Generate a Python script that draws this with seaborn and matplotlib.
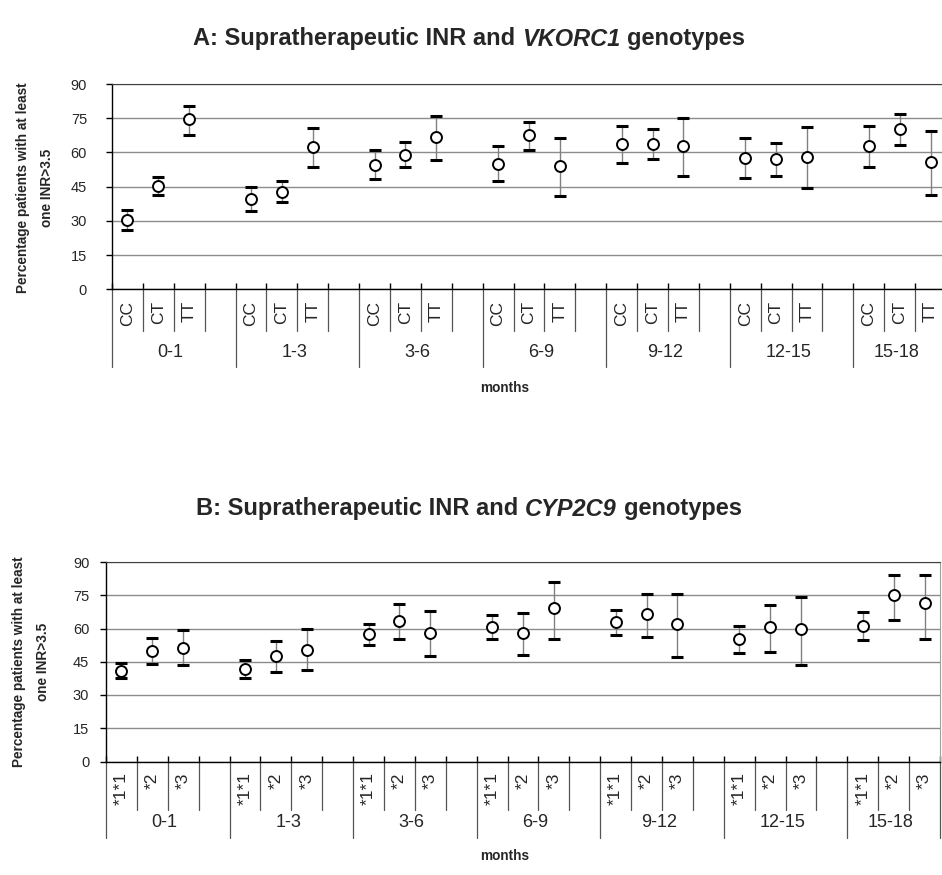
import numpy as np
import pandas as pd
import matplotlib.pyplot as plt
import matplotlib.transforms as mtransforms
import seaborn as sns

sns.set_style("white")
plt.rcParams['font.family'] = ['Liberation Sans', 'DejaVu Sans']

# data
months = ["0-1", "1-3", "3-6", "6-9", "9-12", "12-15", "15-18"]
vkorc1_genotypes = ["CC", "CT", "TT"]
cyp2c9_genotypes = ["*1*1", "*2", "*3"]

vkorc1_pct = [30.2, 45.3, 74.5, 39.6, 42.8, 62.4, 54.6, 59.0, 66.9, 55.1, 67.6, 53.9,
              63.8, 63.8, 63.0, 57.7, 57.0, 58.0, 62.8, 70.1, 55.8]
vkorc1_lo = [26.0, 41.2, 67.5, 34.2, 38.1, 53.5, 48.5, 53.6, 56.7, 47.3, 61.2, 41.0,
             55.4, 57.1, 49.7, 48.8, 49.8, 44.3, 53.6, 63.1, 41.5]
vkorc1_hi = [34.8, 49.1, 80.5, 45.0, 47.5, 70.6, 60.9, 64.4, 76.0, 62.7, 73.3, 66.5,
             71.5, 70.1, 75.1, 66.3, 64.0, 71.0, 71.6, 76.7, 69.3]

cyp2c9_pct = [41.0, 49.8, 51.3, 41.6, 47.5, 50.4, 57.5, 63.4, 58.0, 60.8, 57.8, 69.1,
              62.8, 66.4, 62.0, 55.4, 60.5, 59.6, 61.3, 75.0, 71.5]
cyp2c9_lo = [37.7, 44.0, 43.4, 37.7, 40.2, 41.3, 52.7, 55.3, 47.5, 55.1, 48.0, 55.1,
             57.1, 56.2, 47.3, 49.1, 49.4, 43.4, 54.9, 63.7, 55.4]
cyp2c9_hi = [44.3, 55.9, 59.2, 45.7, 54.5, 59.6, 61.9, 71.1, 68.0, 66.1, 67.1, 80.8,
             68.5, 75.6, 75.4, 61.3, 70.7, 74.2, 67.3, 84.1, 84.1]

W, H = 942, 875
fig = plt.figure(figsize=(W / 100, H / 100), dpi=100)


def make_df(genotypes, pct, lo, hi):
    rows = []
    i = 0
    for m_i, m in enumerate(months):
        for g_i, g in enumerate(genotypes):
            rows.append({"month": m, "genotype": g, "slot": m_i * 4 + g_i + 0.5,
                         "pct": pct[i], "lo": lo[i], "hi": hi[i]})
            i += 1
    return pd.DataFrame(rows)


def draw_panel(rect, df, short_len, long_len, lab_y, grp_y, ypad):
    ax = fig.add_axes(rect)
    nslots = len(months) * 4 - 1
    ax.errorbar(df["slot"], df["pct"], yerr=[df["pct"] - df["lo"], df["hi"] - df["pct"]],
                fmt="none", ecolor="#808080", elinewidth=1, capsize=4.2, capthick=2.2,
                zorder=3)
    for c in ax.lines:
        c.set_color("black")
        c.set_markeredgecolor("black")
    sns.scatterplot(data=df, x="slot", y="pct", ax=ax, marker="o", s=62,
                    facecolor="white", edgecolor="black", linewidth=1.4, zorder=4)
    ax.set_xlim(0, nslots)
    ax.set_ylim(0, 90)
    ax.set_yticks(np.arange(0, 91, 15))
    ax.set_xticks(np.arange(0, nslots + 1))
    ax.set_xticklabels([])
    ax.set_xlabel("")
    ax.set_ylabel("")
    ax.tick_params(axis="y", direction="out", length=4, width=1, color="black",
                   labelsize=10.5, pad=ypad, left=True)
    ax.tick_params(axis="x", direction="in", length=4, width=1, color="black", bottom=True)
    ax.yaxis.grid(True, color="#8c8c8c", lw=1)
    ax.xaxis.grid(False)
    ax.set_axisbelow(True)
    for side in ["left", "bottom"]:
        ax.spines[side].set_color("black")
        ax.spines[side].set_linewidth(1)
    ax.spines["top"].set_color("#404040")
    ax.spines["right"].set_color("#a0a0a0")

    trans = mtransforms.blended_transform_factory(ax.transData, ax.transAxes)
    for k in range(nslots + 1):
        length = long_len if (k % 4 == 0 or k == nslots) else short_len
        ax.plot([k, k], [0, -length], transform=trans, color="#555555", lw=0.9,
                clip_on=False)
    for _, r in df.iterrows():
        ax.text(r["slot"], lab_y, r["genotype"], transform=trans, rotation=90,
                ha="center", va="top", fontsize=12.5)
    for m_i, m in enumerate(months):
        x0 = m_i * 4
        x1 = min(x0 + 4, nslots)
        ax.text((x0 + x1) / 2 - 0.1, grp_y, m, transform=trans, ha="center",
                va="center", fontsize=13)
    return ax


def px_rect(left, right, top, bottom):
    return [left / W, 1 - bottom / H, (right - left) / W, (bottom - top) / H]


df_a = make_df(vkorc1_genotypes, vkorc1_pct, vkorc1_lo, vkorc1_hi)
df_b = make_df(cyp2c9_genotypes, cyp2c9_pct, cyp2c9_lo, cyp2c9_hi)

ax_a = draw_panel(px_rect(112, 946, 84, 289.3), df_a, 0.205, 0.38, -0.058, -0.307, 14)
ax_b = draw_panel(px_rect(106, 940, 562, 761.5), df_b, 0.243, 0.383, -0.055, -0.308, 8)


def mixed_title(ycen_px, parts, xcen_px=469, fontsize=17):
    renderer = fig.canvas.get_renderer()
    space = fontsize * 100 / 72 * 0.278
    texts = []
    for s, style in parts:
        t = fig.text(0, 1 - ycen_px / H, s, fontsize=fontsize, fontweight="bold",
                     fontstyle=style, ha="left", va="center")
        texts.append(t)
    widths = [t.get_window_extent(renderer).width for t in texts]
    total = sum(widths) + space * (len(texts) - 1)
    x = xcen_px - total / 2
    for t, w in zip(texts, widths):
        t.set_x(x / W)
        x += w + space


mixed_title(39, [("A: Supratherapeutic INR and", "normal"), ("VKORC1", "italic"),
                 ("genotypes", "normal")])
mixed_title(509, [("B: Supratherapeutic INR and", "normal"), ("CYP2C9", "italic"),
                  ("genotypes", "normal")])

for ycen, x1, x2 in [(188, 23, 47), (662, 19, 43)]:
    fig.text(x1 / W, 1 - ycen / H, "Percentage patients with at least", rotation=90,
             ha="center", va="center", fontsize=9.8, fontweight="bold")
    fig.text(x2 / W, 1 - ycen / H, "one INR>3.5", rotation=90,
             ha="center", va="center", fontsize=9.8, fontweight="bold")

fig.text(505 / W, 1 - 388 / H, "months", ha="center", va="center", fontsize=9.8,
         fontweight="bold")
fig.text(505 / W, 1 - 856 / H, "months", ha="center", va="center", fontsize=9.8,
         fontweight="bold")

plt.savefig("out.png", dpi=100)
plt.close()
